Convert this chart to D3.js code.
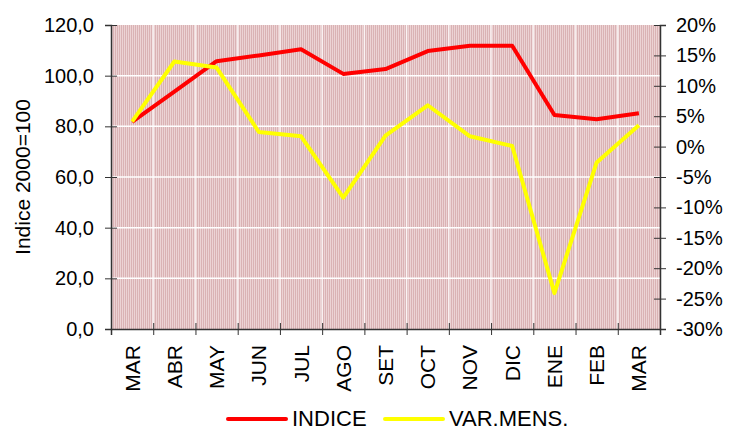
<!DOCTYPE html>
<html>
<head>
<meta charset="utf-8">
<script src="https://cdn.jsdelivr.net/npm/d3@7"></script>
<style>
  body { margin: 0; background: #fff; }
  text { font-family: "Liberation Sans", Arial, sans-serif; fill: #000; }
</style>
</head>
<body>
<div id="chart"></div>
<script>
var months = ["MAR", "ABR", "MAY", "JUN", "JUL", "AGO", "SET", "OCT", "NOV", "DIC", "ENE", "FEB", "MAR"];
var indice = [81.8, 93.7, 105.7, 108.0, 110.4, 100.7, 102.6, 109.7, 111.8, 111.8, 84.5, 82.8, 85.2];
var varMens = [4.1, 14.0, 13.0, 2.4, 1.7, -8.4, 1.8, 6.8, 1.7, 0.1, -24.1, -2.6, 3.5];
var leftTicks = [0, 20, 40, 60, 80, 100, 120];
var rightTicks = [-30, -25, -20, -15, -10, -5, 0, 5, 10, 15, 20];

var W = 731, H = 430;
var margin = { top: 25, right: 71, bottom: 101, left: 111 },
    width = W - margin.left - margin.right,
    height = H - margin.top - margin.bottom;

var svg = d3.select("#chart")
    .append("svg")
    .attr("width", W)
    .attr("height", H);

// striped background pattern
var defs = svg.append("defs");
var pat = defs.append("pattern")
    .attr("id", "stripes")
    .attr("patternUnits", "userSpaceOnUse")
    .attr("width", 2)
    .attr("height", 4);
pat.append("rect").attr("width", 2).attr("height", 4).attr("fill", "#dab2b4");
pat.append("rect").attr("x", 1).attr("width", 1).attr("height", 4).attr("fill", "#ecd3d4");

var g = svg.append("g")
    .attr("transform", "translate(" + margin.left + "," + margin.top + ")");

var x = d3.scaleBand()
    .domain(d3.range(months.length))
    .range([0, width])
    .padding(0);

var y = d3.scaleLinear().domain([0, 120]).range([height, 0]);
var y2 = d3.scaleLinear().domain([-30, 20]).range([height, 0]);

g.append("rect")
    .attr("width", width)
    .attr("height", height)
    .attr("fill", "url(#stripes)");

// gridlines
g.selectAll(".hgrid")
    .data(leftTicks.slice(1, -1))
    .enter().append("line")
    .attr("x1", 0).attr("x2", width)
    .attr("y1", function (d) { return y(d); })
    .attr("y2", function (d) { return y(d); })
    .attr("stroke", "#fff")
    .attr("stroke-width", 1.5);

g.selectAll(".vgrid")
    .data(d3.range(1, months.length))
    .enter().append("line")
    .attr("x1", function (d) { return x(d); })
    .attr("x2", function (d) { return x(d); })
    .attr("y1", 0).attr("y2", height)
    .attr("stroke", "#fff")
    .attr("stroke-opacity", 0.75)
    .attr("stroke-width", 1.5);

// axes
var axisColor = "#333";
var tickFont = "20px";

var yAxis = g.append("g")
    .call(d3.axisLeft(y).tickValues(leftTicks).tickSize(6)
        .tickFormat(function (d) { return d3.format(".1f")(d).replace(".", ","); }));
yAxis.select(".domain").attr("stroke", axisColor).attr("stroke-width", 1.5);
yAxis.selectAll(".tick line").attr("stroke", axisColor).attr("x2", -6).attr("x1", 6);
yAxis.selectAll(".tick text").attr("x", -17).style("font-size", tickFont)
    .style("font-family", "Liberation Sans, Arial, sans-serif").attr("fill", "#000");

var y2Axis = g.append("g")
    .attr("transform", "translate(" + width + ",0)")
    .call(d3.axisRight(y2).tickValues(rightTicks).tickSize(6)
        .tickFormat(function (d) { return d + "%"; }));
y2Axis.select(".domain").attr("stroke", axisColor).attr("stroke-width", 1.5);
y2Axis.selectAll(".tick line").attr("stroke", axisColor).attr("x1", -6).attr("x2", 6);
y2Axis.selectAll(".tick text").attr("x", 16).style("font-size", tickFont)
    .style("font-family", "Liberation Sans, Arial, sans-serif").attr("fill", "#000");

// bottom axis: ticks at category boundaries
var xb = d3.scaleLinear().domain([0, months.length]).range([0, width]);
var xAxis = g.append("g")
    .attr("transform", "translate(0," + height + ")")
    .call(d3.axisBottom(xb).tickValues(d3.range(0, months.length + 1)).tickSize(6).tickFormat(""));
xAxis.select(".domain").attr("stroke", axisColor).attr("stroke-width", 1.5);
xAxis.selectAll(".tick line").attr("stroke", axisColor).attr("y1", -6).attr("y2", 6);

g.selectAll(".xlabel")
    .data(months)
    .enter().append("text")
    .attr("class", "xlabel")
    .attr("transform", function (d, i) {
        return "translate(" + (x(i) + x.bandwidth() / 2 + 7.5) + "," + (height + 16) + ") rotate(-90)";
    })
    .attr("text-anchor", "end")
    .style("font-size", "21px")
    .text(function (d) { return d; });

// y axis title
svg.append("text")
    .attr("transform", "translate(" + 30 + "," + (margin.top + height / 2) + ") rotate(-90)")
    .attr("text-anchor", "middle")
    .style("font-size", "21px")
    .text("Indice 2000=100");

// lines
var cx = function (i) { return x(i) + x.bandwidth() / 2; };

g.append("path")
    .datum(indice)
    .attr("fill", "none")
    .attr("stroke", "#ff0000")
    .attr("stroke-width", 4)
    .attr("stroke-linejoin", "round")
    .attr("d", d3.line().x(function (d, i) { return cx(i); }).y(function (d) { return y(d); }));

g.append("path")
    .datum(varMens)
    .attr("fill", "none")
    .attr("stroke", "#ffff00")
    .attr("stroke-width", 4)
    .attr("stroke-linejoin", "round")
    .attr("d", d3.line().x(function (d, i) { return cx(i); }).y(function (d) { return y2(d); }));

// legend
var legendData = [
    { name: "INDICE", color: "#ff0000", x: 228 },
    { name: "VAR.MENS.", color: "#ffff00", x: 385 }
];
var legend = svg.selectAll(".legend")
    .data(legendData)
    .enter().append("g")
    .attr("class", "legend")
    .attr("transform", function (d) { return "translate(" + d.x + ",419)"; });

legend.append("line")
    .attr("x1", 0).attr("x2", 58)
    .attr("stroke", function (d) { return d.color; })
    .attr("stroke-width", 4)
    .attr("stroke-linecap", "round");

legend.append("text")
    .attr("x", 64)
    .attr("y", 7)
    .style("font-size", "22px")
    .text(function (d) { return d.name; });
</script>
</body>
</html>
